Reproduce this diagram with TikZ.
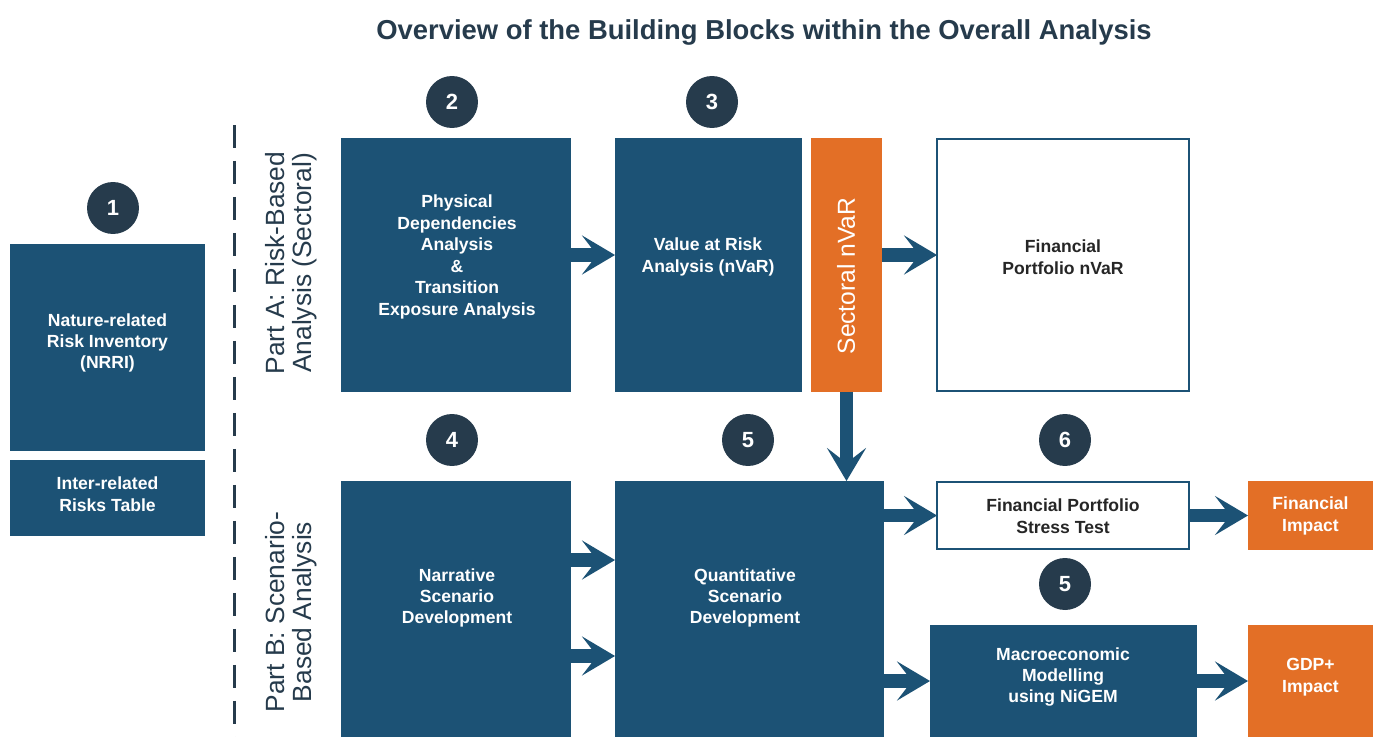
\documentclass[tikz,border=0pt]{standalone}
\usepackage{fontspec}
\setmainfont{Liberation Sans}
\usepackage{tikz}
\usetikzlibrary{arrows.meta}

\definecolor{boxblue}{RGB}{28,82,117}
\definecolor{inkdark}{RGB}{38,59,76}
\definecolor{nvarorange}{RGB}{227,111,38}

\tikzset{
  block/.style={fill=boxblue, inner sep=0pt, outer sep=0pt},
  hollow/.style={draw=boxblue, line width=0.04cm, fill=white, inner sep=0pt, outer sep=0pt},
  hot/.style={fill=nvarorange, inner sep=0pt, outer sep=0pt},
  lbl/.style={text=white, align=center, font=\bfseries\fontsize{10}{12.2}\selectfont},
  darklbl/.style={lbl, text=black!85},
  num/.style={circle, fill=inkdark, minimum size=1.04cm, inner sep=0pt, text=white, font=\bfseries\fontsize{12.5}{14}\selectfont},
  part/.style={rotate=90, align=center, text=inkdark, font=\fontsize{15}{15.5}\selectfont},
  flow/.style={draw=boxblue, line width=0.27cm, -{Stealth[length=0.66cm, width=0.78cm, inset=0.3cm]}}
}

\begin{document}
\begin{tikzpicture}[x=0.02cm, y=-0.02cm]
\useasboundingbox (0,0) rectangle (1373,737);
\fill[white] (0,0) rectangle (1373,737);

% title
\node[text=inkdark, font=\bfseries\fontsize{15.6}{18}\selectfont] (title) at (764,32) {Overview of the Building Blocks within the Overall Analysis};

% numbered markers
\foreach \n/\x/\y/\name in {1/113/208/one, 2/452/102/two, 3/712/102/three, 4/452/440/four, 5/748/440/five, 6/1065/440/six, 5/1065/584/fiveb}
  \node[num] (\name) at (\x,\y) {\n};

% left column
\node[block, minimum width=3.9cm, minimum height=4.14cm] (nrri) at (107.5,347.5) {};
\node[lbl] (nrritxt) at (107.5,343) {Nature-related\\Risk Inventory\\(NRRI)};
\node[block, minimum width=3.9cm, minimum height=1.52cm] (irt) at (107.5,498) {};
\node[lbl] (irttxt) at (107.5,494) {Inter-related\\Risks Table};

\draw[inkdark, line width=0.06cm, dash pattern=on 0.46cm off 0.26cm] (234,125) -- (234,737);
\node[part] (parta) at (291,263) {Part A: Risk-Based\\Analysis (Sectoral)};
\node[part] (partb) at (291,612) {Part B: Scenario-\\Based Analysis};

% part A
\node[block, minimum width=4.6cm, minimum height=5.08cm] (phys) at (456,265) {};
\node[lbl] (phystxt) at (457,257) {Physical\\Dependencies\\Analysis\\\&\\Transition\\Exposure Analysis};
\node[block, minimum width=3.74cm, minimum height=5.08cm] (var) at (708.5,265) {};
\node[lbl] (vartxt) at (708,257) {Value at Risk\\Analysis (nVaR)};
\node[hot, minimum width=1.42cm, minimum height=5.08cm] (sect) at (846.5,265) {};
\node[rotate=90, text=white, font=\fontsize{14}{16}\selectfont] (secttxt) at (846,276) {Sectoral nVaR};
\node[hollow, minimum width=5.04cm, minimum height=5.04cm] (pnvar) at (1063,265) {};
\node[darklbl] (pnvartxt) at (1063,257) {Financial\\Portfolio nVaR};

% part B
\node[block, minimum width=4.6cm, minimum height=5.12cm] (narr) at (456,609) {};
\node[lbl] (narrtxt) at (457,598) {Narrative\\Scenario\\Development};
\node[block, minimum width=5.38cm, minimum height=5.12cm] (quant) at (749.5,609) {};
\node[lbl] (quanttxt) at (745,598) {Quantitative\\Scenario\\Development};
\node[hollow, minimum width=5.04cm, minimum height=1.34cm] (stress) at (1063,515.5) {};
\node[darklbl] (stresstxt) at (1063,516) {Financial Portfolio\\Stress Test};
\node[hot, minimum width=2.5cm, minimum height=1.38cm] (finimp) at (1310.5,515.5) {};
\node[lbl] (finimptxt) at (1310.5,516) {Financial\\Impact};
\node[block, minimum width=5.34cm, minimum height=2.24cm] (macro) at (1063.5,681) {};
\node[lbl] (macrotxt) at (1063,677) {Macroeconomic\\Modelling\\using NiGEM};
\node[hot, minimum width=2.5cm, minimum height=2.24cm] (gdp) at (1310.5,681) {};
\node[lbl] (gdptxt) at (1310.5,677) {GDP+\\Impact};

% arrows
\draw[flow] ([yshift=0.2cm]phys.east) -- ([yshift=0.2cm]var.west);
\draw[flow] ([yshift=0.2cm]sect.east) -- ([yshift=0.2cm]pnvar.west);
\draw[flow] (sect.south) -- (sect.south |- quant.north);
\draw[flow] ([yshift=0.98cm]narr.east) -- ([yshift=0.98cm]quant.west);
\draw[flow] ([yshift=-0.94cm]narr.east) -- ([yshift=-0.94cm]quant.west);
\draw[flow] (quant.east |- stress.west) -- (stress.west);
\draw[flow] (quant.east |- macro.west) -- (macro.west);
\draw[flow] (stress.east) -- (finimp.west);
\draw[flow] (macro.east) -- (gdp.west);
\end{tikzpicture}
\end{document}
